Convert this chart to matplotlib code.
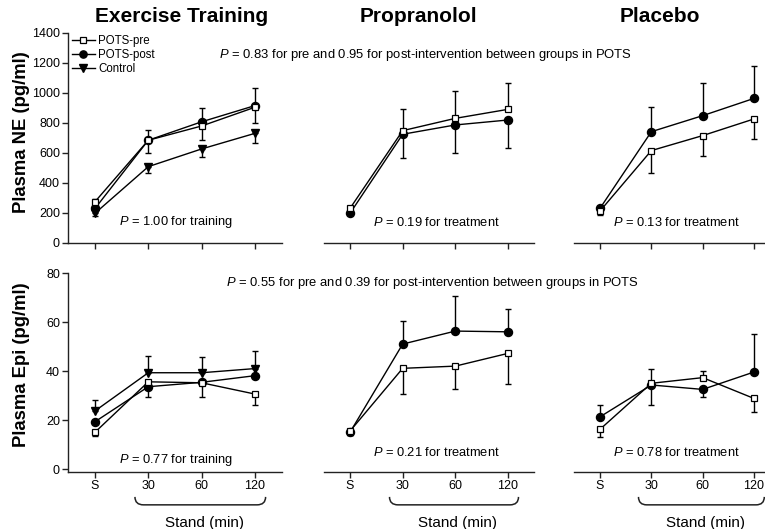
import numpy as np
import matplotlib
matplotlib.use("Agg")
import matplotlib.pyplot as plt
from matplotlib.path import Path
from matplotlib.patches import PathPatch
import matplotlib.transforms as mtransforms

plt.rcParams['font.family'] = ['Liberation Sans', 'DejaVu Sans']
plt.rcParams['mathtext.fontset'] = 'custom'
plt.rcParams['mathtext.it'] = 'Liberation Sans:italic'
plt.rcParams['mathtext.rm'] = 'Liberation Sans'

# time points
times = ['S', '30', '60', '120']
x = np.arange(len(times))

# plasma NE (pg/ml): exercise training, propranolol, placebo
ne_pre = [[275, 685, 780, 905], [231, 749, 831, 891], [213, 616, 716, 827]]
ne_post = [[230, 685, 808, 916], [198, 725, 787, 820], [231, 742, 849, 964]]
ne_ctrl = [198, 509, 627, 731]
# error bars: pre drawn downward/upward, post drawn upward/downward
ne_pre_lo = [[20, 85, 93, 103], [0, 0, 0, 0], [25, 152, 136, 136]]
ne_pre_hi = [[20, 0, 0, 0], [15, 144, 185, 178], [0, 0, 0, 0]]
ne_post_lo = [[20, 0, 0, 0], [10, 156, 189, 189], [20, 0, 0, 0]]
ne_post_hi = [[0, 68, 94, 119], [0, 0, 0, 0], [15, 162, 220, 216]]
ne_ctrl_lo = [15, 42, 52, 67]
ne_ctrl_hi = [0, 0, 0, 0]

# plasma Epi (pg/ml)
epi_pre = [[15.0, 35.6, 35.2, 30.6], [15.5, 41.1, 42.0, 47.2], [16.2, 35.0, 37.3, 28.8]]
epi_post = [[19.3, 33.6, 35.4, 38.1], [15.0, 51.0, 56.3, 56.0], [21.3, 34.3, 32.5, 39.6]]
epi_ctrl = [23.7, 39.3, 39.3, 41.0]
epi_pre_lo = [[1.5, 0, 0, 4.5], [1.5, 10.5, 9.3, 12.5], [3.0, 0, 0, 5.7]]
epi_pre_hi = [[0, 0, 0, 0], [0, 0, 0, 0], [0, 0, 2.7, 0]]
epi_post_lo = [[0, 4.3, 5.9, 0], [1.0, 0, 0, 0], [0, 8.2, 3.2, 0]]
epi_post_hi = [[0, 0, 0, 0], [0, 9.4, 14.3, 9.3], [5.0, 6.4, 0, 15.5]]
epi_ctrl_lo = [0, 0, 0, 0]
epi_ctrl_hi = [4.5, 7.0, 6.5, 7.3]

titles = ['Exercise Training', 'Propranolol', 'Placebo']
title_x = [182, 418, 660]
ne_notes = ['$P$ = 1.00 for training', '$P$ = 0.19 for treatment', '$P$ = 0.13 for treatment']
epi_notes = ['$P$ = 0.77 for training', '$P$ = 0.21 for treatment', '$P$ = 0.78 for treatment']
note_x = [176, 436, 676]

W, H = 765, 529
fig = plt.figure(figsize=(W / 100, H / 100), dpi=100)

# panel left edge / right edge in pixels (x = -0.5 .. 3.5)
px_left = [68.3, 323.7, 574.3]
px_right = [281.6, 534.3, 779.7]


def add_ax(i, top, bottom):
    return fig.add_axes([px_left[i] / W, 1 - bottom / H,
                         (px_right[i] - px_left[i]) / W, (bottom - top) / H])


def style(ax, i):
    ax.set_xlim(-0.5, 3.5)
    for s in ['top', 'right']:
        ax.spines[s].set_visible(False)
    if i > 0:
        ax.spines['left'].set_visible(False)
        ax.set_yticks([])
    for s in ax.spines.values():
        s.set_linewidth(1.0)
        s.set_color('#222222')
    ax.tick_params(direction='out', length=4, width=1, labelsize=9, pad=2,
                   color='#222222')
    ax.set_xticks(x)
    ax.patch.set_visible(False)


def draw(ax, pre, post, lo_pre, hi_pre, lo_post, hi_post, ctrl=None, lo_c=None, hi_c=None):
    kw = dict(fmt='none', ecolor='black', elinewidth=1, capsize=2.5, capthick=1, zorder=2)
    ax.errorbar(x, pre, yerr=[lo_pre, hi_pre], **kw)
    ax.errorbar(x, post, yerr=[lo_post, hi_post], **kw)
    if ctrl is not None:
        ax.errorbar(x, ctrl, yerr=[lo_c, hi_c], **kw)
    h1, = ax.plot(x, pre, '-s', color='black', lw=1, ms=4.5, mfc='white', mec='black',
                  mew=0.9, zorder=4, label='POTS-pre')
    h2, = ax.plot(x, post, '-o', color='black', lw=1, ms=5.8, mfc='black', zorder=3,
                  label='POTS-post')
    handles = [h1, h2]
    if ctrl is not None:
        h3, = ax.plot(x, ctrl, '-v', color='black', lw=1, ms=6, mfc='black', zorder=3,
                      label='Control')
        handles.append(h3)
    return handles


def brace(ax, x0, x1):
    trans = mtransforms.blended_transform_factory(ax.transData, ax.transAxes)
    ytop, ybot = -0.128, -0.168
    r = 0.16
    verts = [(x0, ytop), (x0, ybot), (x0 + r, ybot), (x1 - r, ybot),
             (x1, ybot), (x1, ytop)]
    codes = [Path.MOVETO, Path.CURVE3, Path.CURVE3, Path.LINETO,
             Path.CURVE3, Path.CURVE3]
    ax.add_patch(PathPatch(Path(verts, codes), fill=False, lw=1.1, color='#222222',
                           transform=trans, clip_on=False))
    ax.text(2.05, -0.26, 'Stand (min)', transform=trans, ha='center', va='center',
            fontsize=11)


for i in range(3):
    ax = add_ax(i, 33, 243)
    style(ax, i)
    ax.set_ylim(0, 1400)
    ax.set_xticklabels([])
    if i == 0:
        ax.set_yticks(np.arange(0, 1401, 200))
        hs = draw(ax, ne_pre[i], ne_post[i], ne_pre_lo[i], ne_pre_hi[i],
                  ne_post_lo[i], ne_post_hi[i], ne_ctrl, ne_ctrl_lo, ne_ctrl_hi)
        ax.legend(handles=hs, loc='upper left', bbox_to_anchor=(0.005, 1.0),
                  frameon=False, fontsize=8.3, handlelength=2.0, handletextpad=0.3,
                  labelspacing=0.15, borderaxespad=0, borderpad=0.2, markerscale=0.9)
    else:
        draw(ax, ne_pre[i], ne_post[i], ne_pre_lo[i], ne_pre_hi[i],
             ne_post_lo[i], ne_post_hi[i])

    ax2 = add_ax(i, 273, 471.5)
    style(ax2, i)
    ax2.set_ylim(-1, 80)
    ax2.set_xticklabels(times)
    if i == 0:
        ax2.set_yticks(np.arange(0, 81, 20))
        draw(ax2, epi_pre[i], epi_post[i], epi_pre_lo[i], epi_pre_hi[i],
             epi_post_lo[i], epi_post_hi[i], epi_ctrl, epi_ctrl_lo, epi_ctrl_hi)
    else:
        draw(ax2, epi_pre[i], epi_post[i], epi_pre_lo[i], epi_pre_hi[i],
             epi_post_lo[i], epi_post_hi[i])
    brace(ax2, 0.75, 3.2)

    fig.text(title_x[i] / W, 1 - 17 / H, titles[i], ha='center', va='center',
             fontsize=15, fontweight='bold')
    fig.text(note_x[i] / W, 1 - 222 / H, ne_notes[i], ha='center', va='center',
             fontsize=9.3)
    fig.text(note_x[i] / W, 1 - (460 if i == 0 else 452) / H, epi_notes[i],
             ha='center', va='center', fontsize=9.3)

fig.text(425 / W, 1 - 55 / H,
         '$P$ = 0.83 for pre and 0.95 for post-intervention between groups in POTS',
         ha='center', va='center', fontsize=9.4)
fig.text(432 / W, 1 - 283 / H,
         '$P$ = 0.55 for pre and 0.39 for post-intervention between groups in POTS',
         ha='center', va='center', fontsize=9.4)

fig.text(22 / W, 1 - 132 / H, 'Plasma NE (pg/ml)', rotation=90, ha='center',
         va='center', fontsize=13.3, fontweight='bold')
fig.text(22 / W, 1 - 365 / H, 'Plasma Epi (pg/ml)', rotation=90, ha='center',
         va='center', fontsize=13.3, fontweight='bold')

fig.savefig('out.png', dpi=100)
